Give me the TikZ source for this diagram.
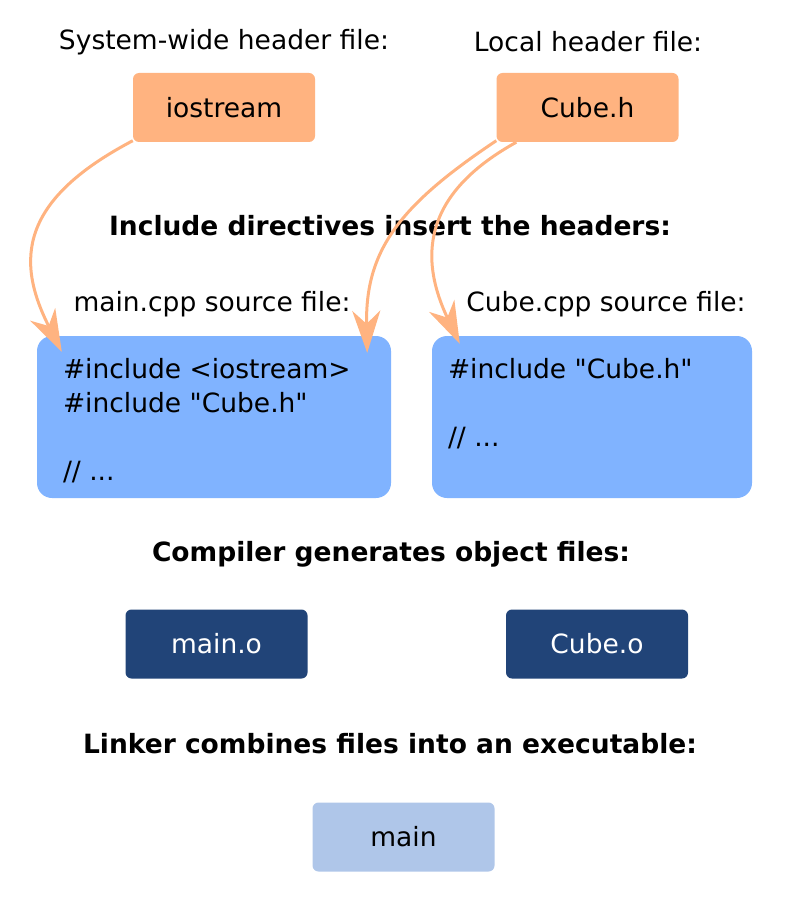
\documentclass[tikz,border=0pt]{standalone}
\usepackage{fontspec}
\setmainfont{DejaVu Sans}
\newfontfamily\codefont{DejaVu Sans}[Ligatures=TeXOff]
\usetikzlibrary{arrows.meta, calc, positioning}
\definecolor{header}{HTML}{FFB380}
\definecolor{source}{HTML}{80B3FF}
\definecolor{object}{HTML}{214478}
\definecolor{binary}{HTML}{AFC6E9}
\begin{document}
\begin{tikzpicture}[x=1pt, y=-1pt,% styles used in image code
         > = {Stealth[length=42pt, width=28pt, inset=13pt]},
every node/.style = {font=\fontsize{26.5}{34}\selectfont},
 label/.style = {inner sep=0pt},
 title/.style = {inner sep=0pt, font=\fontsize{26.5}{34}\selectfont\bfseries},
  file/.style = {rounded corners=6pt, minimum width=182pt, minimum height=69pt,
                 inner sep=0pt},
   src/.style = {fill=source, rounded corners=15pt, minimum height=162pt,
                 inner sep=0pt},
  code/.style = {align=left, inner sep=0pt, anchor=north west,
                 font=\fontsize{26.5}{34}\codefont},
   inc/.style = {->, draw=header, line width=3pt}
                    ]
	\useasboundingbox (0,0) rectangle (800,904);

	% header files
	\node[label] (syslbl) at (224,42) {System-wide header file:};
	\node[label] (loclbl) at (588,42) {Local header file:};
	\node[file, fill=header] (ios)  at (224,107.5) {iostream};
	\node[file, fill=header] (cubh) at (587.5,107.5) {Cube.h};

	\node[title] (inctitle) at (390,226) {Include directives insert the headers:};

	% source files
	\node[label] (mainlbl) at (212,304) {main.cpp source file:};
	\node[label] (cubelbl) at (606,304) {Cube.cpp source file:};
	\node[src, minimum width=354pt] (maincpp) at (214,417) {};
	\node[src, minimum width=320pt] (cubecpp) at (592,417) {};
	\node[code] (maincode) at ($(maincpp.north west)+(26,22)$)
		{\#include <iostream>\\ \#include "Cube.h"\\[34pt] // ...};
	\node[code] (cubecode) at ($(cubecpp.north west)+(16,22)$)
		{\#include "Cube.h"\\[34pt] // ...};

	% includes
	\coordinate (tipA) at ($(maincpp.north west)+(25,16)$);
	\coordinate (tipB) at ($(maincpp.north east)+(-24,17)$);
	\coordinate (tipC) at ($(cubecpp.north west)+(28,8)$);
	\draw[inc] (ios.200) .. controls (20,200) and (15,260) .. (tipA);
	\draw[inc] (cubh.200) .. controls (400,205) and (365,250) .. (tipB);
	\draw[inc] (cubh.206) .. controls (430,190) and (415,250) .. (tipC);

	% object files
	\node[title] (comptitle) at (391,554) {Compiler generates object files:};
	\node[file, fill=object, text=white] (maino) at (216.5,644) {main.o};
	\node[file, fill=object, text=white] (cubeo) at (597,644) {Cube.o};

	% executable
	\node[title] (linktitle) at (390,744) {Linker combines files into an executable:};
	\node[file, fill=binary] (mainexe) at (403.5,837) {main};
\end{tikzpicture}
\end{document}
